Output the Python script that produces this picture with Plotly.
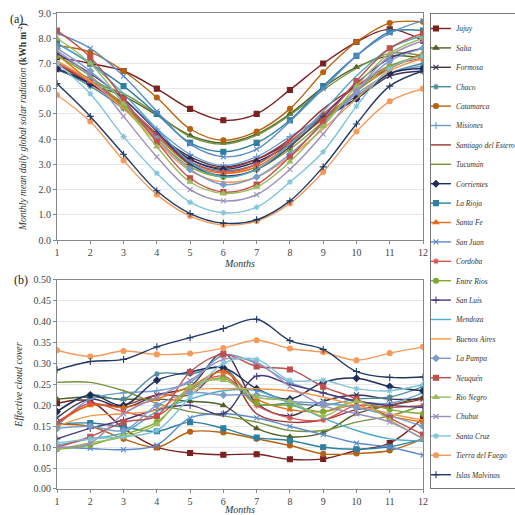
import plotly.graph_objects as go
from plotly.subplots import make_subplots

months = [1, 2, 3, 4, 5, 6, 7, 8, 9, 10, 11, 12]

provinces = ["Jujuy", "Salta", "Formosa", "Chaco", "Catamarca", "Misiones",
             "Santiago del Estero", "Tucumán", "Corrientes", "La Rioja", "Santa Fe",
             "San Juan", "Cordoba", "Entre Rios", "San Luis", "Mendoza", "Buenos Aires",
             "La Pampa", "Neuquén", "Rio Negro", "Chubut", "Santa Cruz",
             "Tierra del Fuego", "Islas Malvinas"]

colors = ["#7B2020", "#4F6228", "#403152", "#4A8A9A", "#B8620F", "#6A9BD1",
          "#9E3330", "#77933C", "#1F2D5C", "#2E7FA0", "#E46C0A",
          "#5B8BCB", "#D9534F", "#7DAA32", "#4B3A7A", "#4BACC6", "#F79646",
          "#7A9CCB", "#C0504D", "#9BBB59", "#9C8FBE", "#7FC4D9",
          "#F59A5A", "#1F3864"]

symbols = ["square", "triangle-up", "x-thin-open", "asterisk-open", "circle", "cross-thin-open",
           None, None, "diamond", "square", "triangle-up",
           "x-thin-open", "asterisk-open", "circle", "cross-thin-open", None, None,
           "diamond", "square", "triangle-up", "x-thin-open", "asterisk-open",
           "circle", "cross-thin-open"]

# (a) Monthly mean daily global solar radiation (kWh m-2)
rad_jujuy = [7.25, 7.0, 6.7, 6.0, 5.2, 4.75, 5.0, 5.95, 7.0, 7.85, 8.35, 7.9]
rad_salta = [7.0, 6.2, 5.7, 4.95, 4.15, 3.85, 4.2, 5.0, 6.05, 6.85, 7.3, 7.2]
rad_formosa = [6.75, 6.2, 5.3, 4.2, 3.3, 2.9, 3.2, 3.9, 4.9, 5.6, 6.5, 6.7]
rad_chaco = [6.8, 6.1, 5.2, 4.1, 3.1, 2.75, 3.0, 3.9, 4.9, 5.7, 6.6, 7.0]
rad_catamarca = [7.7, 7.45, 6.7, 5.65, 4.4, 3.95, 4.3, 5.2, 6.65, 7.85, 8.6, 8.65]
rad_misiones = [6.9, 6.4, 5.6, 4.4, 3.4, 2.95, 3.3, 4.1, 4.9, 5.8, 6.6, 6.9]
rad_santiago = [7.0, 6.2, 5.3, 4.2, 3.2, 2.85, 3.2, 4.0, 5.2, 6.1, 6.8, 7.4]
rad_tucuman = [7.1, 6.3, 5.8, 5.0, 4.1, 3.8, 4.15, 4.95, 5.95, 6.8, 7.4, 7.3]
rad_corrientes = [6.8, 6.2, 5.4, 4.2, 3.2, 2.8, 3.1, 3.8, 4.8, 5.6, 6.6, 6.8]
rad_larioja = [7.8, 7.0, 6.1, 5.0, 3.85, 3.5, 3.85, 4.75, 6.1, 7.3, 8.25, 8.3]
rad_santafe = [7.35, 6.3, 5.3, 4.1, 3.0, 2.65, 2.9, 3.8, 4.8, 5.9, 6.8, 7.4]
rad_sanjuan = [8.2, 7.6, 6.5, 5.1, 3.8, 3.3, 3.6, 4.7, 6.0, 7.3, 8.2, 8.7]
rad_cordoba = [7.0, 6.3, 5.4, 4.2, 3.1, 2.7, 3.0, 3.9, 5.0, 6.1, 6.9, 7.2]
rad_entrerios = [7.3, 6.5, 5.3, 4.0, 2.9, 2.5, 2.8, 3.6, 4.7, 5.9, 6.9, 7.3]
rad_sanluis = [7.4, 6.6, 5.6, 4.3, 3.0, 2.55, 2.8, 3.7, 4.9, 6.2, 7.2, 7.6]
rad_mendoza = [7.8, 7.0, 5.8, 4.4, 3.1, 2.5, 2.8, 3.8, 5.1, 6.5, 7.6, 8.1]
rad_buenosaires = [7.1, 6.3, 5.2, 3.9, 2.75, 2.3, 2.5, 3.3, 4.4, 5.6, 6.7, 7.2]
rad_lapampa = [7.6, 6.7, 5.5, 4.0, 2.8, 2.2, 2.5, 3.4, 4.6, 5.9, 7.1, 7.6]
rad_neuquen = [8.3, 7.25, 5.6, 3.9, 2.45, 1.9, 2.2, 3.3, 4.7, 6.3, 7.6, 8.2]
rad_rionegro = [8.0, 7.0, 5.4, 3.7, 2.3, 1.85, 2.1, 3.1, 4.5, 6.1, 7.4, 8.0]
rad_chubut = [7.5, 6.5, 4.9, 3.3, 2.0, 1.55, 1.8, 2.8, 4.2, 5.9, 7.3, 7.9]
rad_santacruz = [7.0, 5.8, 4.1, 2.65, 1.5, 1.08, 1.3, 2.3, 3.5, 5.3, 6.8, 7.3]
rad_tierradelfuego = [5.75, 4.7, 3.15, 1.8, 0.95, 0.6, 0.75, 1.45, 2.7, 4.3, 5.5, 6.0]
rad_malvinas = [6.2, 4.9, 3.4, 1.95, 1.05, 0.67, 0.8, 1.55, 2.9, 4.6, 6.1, 6.7]

# (b) Effective cloud cover
ecc_jujuy = [0.205, 0.21, 0.145, 0.10, 0.086, 0.082, 0.083, 0.071, 0.072, 0.092, 0.11, 0.17]
ecc_salta = [0.215, 0.22, 0.215, 0.215, 0.21, 0.20, 0.145, 0.125, 0.135, 0.18, 0.20, 0.22]
ecc_formosa = [0.17, 0.215, 0.195, 0.225, 0.245, 0.325, 0.205, 0.175, 0.21, 0.225, 0.215, 0.215]
ecc_chaco = [0.185, 0.225, 0.215, 0.275, 0.275, 0.29, 0.205, 0.205, 0.2, 0.215, 0.22, 0.245]
ecc_catamarca = [0.155, 0.15, 0.12, 0.10, 0.137, 0.135, 0.12, 0.104, 0.084, 0.085, 0.092, 0.12]
ecc_misiones = [0.15, 0.215, 0.23, 0.235, 0.255, 0.32, 0.30, 0.255, 0.23, 0.21, 0.205, 0.23]
ecc_santiago = [0.16, 0.20, 0.20, 0.225, 0.225, 0.285, 0.18, 0.16, 0.165, 0.19, 0.20, 0.215]
ecc_tucuman = [0.255, 0.255, 0.235, 0.205, 0.185, 0.175, 0.16, 0.14, 0.14, 0.16, 0.175, 0.20]
ecc_corrientes = [0.185, 0.225, 0.20, 0.26, 0.28, 0.29, 0.24, 0.215, 0.255, 0.265, 0.245, 0.235]
ecc_larioja = [0.155, 0.158, 0.148, 0.138, 0.16, 0.145, 0.123, 0.116, 0.10, 0.095, 0.101, 0.12]
ecc_santafe = [0.155, 0.20, 0.195, 0.215, 0.245, 0.28, 0.215, 0.19, 0.185, 0.20, 0.175, 0.16]
ecc_sanjuan = [0.10, 0.097, 0.094, 0.105, 0.17, 0.18, 0.17, 0.15, 0.13, 0.11, 0.10, 0.081]
ecc_cordoba = [0.155, 0.205, 0.185, 0.175, 0.24, 0.27, 0.20, 0.17, 0.165, 0.20, 0.195, 0.20]
ecc_entrerios = [0.095, 0.105, 0.13, 0.16, 0.235, 0.265, 0.205, 0.20, 0.185, 0.21, 0.19, 0.18]
ecc_sanluis = [0.12, 0.145, 0.165, 0.19, 0.20, 0.18, 0.27, 0.25, 0.23, 0.21, 0.20, 0.195]
ecc_mendoza = [0.105, 0.12, 0.135, 0.185, 0.215, 0.235, 0.235, 0.205, 0.17, 0.14, 0.12, 0.115]
ecc_buenosaires = [0.15, 0.175, 0.18, 0.19, 0.235, 0.24, 0.24, 0.235, 0.22, 0.20, 0.18, 0.165]
ecc_lapampa = [0.145, 0.15, 0.14, 0.20, 0.23, 0.225, 0.225, 0.21, 0.205, 0.195, 0.175, 0.15]
ecc_neuquen = [0.10, 0.125, 0.16, 0.175, 0.28, 0.322, 0.293, 0.286, 0.245, 0.215, 0.17, 0.13]
ecc_rionegro = [0.095, 0.11, 0.125, 0.155, 0.245, 0.26, 0.22, 0.21, 0.175, 0.21, 0.165, 0.12]
ecc_chubut = [0.10, 0.11, 0.18, 0.22, 0.26, 0.31, 0.303, 0.245, 0.20, 0.18, 0.16, 0.12]
ecc_santacruz = [0.11, 0.12, 0.125, 0.14, 0.22, 0.30, 0.31, 0.26, 0.26, 0.24, 0.235, 0.25]
ecc_tierradelfuego = [0.332, 0.317, 0.33, 0.322, 0.324, 0.337, 0.356, 0.336, 0.327, 0.308, 0.325, 0.34]
ecc_malvinas = [0.285, 0.305, 0.31, 0.34, 0.362, 0.384, 0.406, 0.355, 0.334, 0.281, 0.267, 0.268]

radiation = [rad_jujuy, rad_salta, rad_formosa, rad_chaco, rad_catamarca, rad_misiones,
             rad_santiago, rad_tucuman, rad_corrientes, rad_larioja, rad_santafe,
             rad_sanjuan, rad_cordoba, rad_entrerios, rad_sanluis, rad_mendoza,
             rad_buenosaires, rad_lapampa, rad_neuquen, rad_rionegro, rad_chubut,
             rad_santacruz, rad_tierradelfuego, rad_malvinas]
cloud = [ecc_jujuy, ecc_salta, ecc_formosa, ecc_chaco, ecc_catamarca, ecc_misiones,
         ecc_santiago, ecc_tucuman, ecc_corrientes, ecc_larioja, ecc_santafe,
         ecc_sanjuan, ecc_cordoba, ecc_entrerios, ecc_sanluis, ecc_mendoza,
         ecc_buenosaires, ecc_lapampa, ecc_neuquen, ecc_rionegro, ecc_chubut,
         ecc_santacruz, ecc_tierradelfuego, ecc_malvinas]

SERIF = "Liberation Serif"

fig = make_subplots(rows=2, cols=1, shared_xaxes=False, vertical_spacing=0.08)

for i, name in enumerate(provinces):
    sym = symbols[i]
    mode = "lines+markers" if sym else "lines"
    marker = dict(symbol=sym or "circle", size=5, color=colors[i],
                  line=dict(color=colors[i], width=1.1))
    for row, data in ((1, radiation[i]), (2, cloud[i])):
        fig.add_trace(go.Scatter(
            x=months, y=data, name=name, mode=mode,
            line=dict(color=colors[i], width=1.4, shape="spline", smoothing=1.0),
            marker=marker, legendgroup=name, showlegend=(row == 1)),
            row=row, col=1)

fig.update_layout(
    width=515, height=515,
    margin=dict(l=57, r=92, t=13, b=26, autoexpand=False),
    paper_bgcolor="white", plot_bgcolor="white",
    font=dict(family=SERIF, size=10, color="#333"),
    legend=dict(x=1.019, y=1.0, xanchor="left", yanchor="top",
                bordercolor="#777", borderwidth=1, bgcolor="white",
                font=dict(family=SERIF, size=7.5, style="italic", color="#333"),
                tracegroupgap=0.4, indentation=-15, itemwidth=30),
)

axis_common = dict(showline=True, linecolor="#888", linewidth=1, mirror=True,
                   ticks="outside", ticklen=3, tickcolor="#888",
                   tickfont=dict(family=SERIF, size=10, color="#444"))

fig.update_xaxes(range=[1, 12], dtick=1, tick0=1, showgrid=False, **axis_common)
fig.update_yaxes(showgrid=True, gridcolor="#e8e8e8", gridwidth=1, zeroline=False, **axis_common)

fig.update_layout(
    yaxis=dict(domain=[0.5231, 1.0], range=[0, 9.0], dtick=1.0, tickformat=".1f",
               title=dict(text="<i>Monthly mean daily global solar radiation</i> <b>(kWh m<sup>-2</sup>)</b>",
                          font=dict(family=SERIF, size=9.5, color="#333"), standoff=10)),
    yaxis2=dict(domain=[0.0, 0.4391], range=[0, 0.5], dtick=0.05, tickformat=".2f",
                title=dict(text="<i>Effective cloud cover</i>",
                           font=dict(family=SERIF, size=10, color="#333"), standoff=8)),
    xaxis=dict(title=dict(text="<i>Months</i>", font=dict(family=SERIF, size=10, color="#333"), standoff=2)),
    xaxis2=dict(title=dict(text="<i>Months</i>", font=dict(family=SERIF, size=10, color="#333"), standoff=0)),
)

fig.add_annotation(text="(a)", x=-0.134, y=1.006, xref="paper", yref="paper",
                   xanchor="left", yanchor="top", showarrow=False,
                   font=dict(family=SERIF, size=12, color="#222"))
fig.add_annotation(text="(b)", x=-0.123, y=0.458, xref="paper", yref="paper",
                   xanchor="left", yanchor="top", showarrow=False,
                   font=dict(family=SERIF, size=12, color="#222"))

fig.write_html("out.html", config={"displayModeBar": False},
               post_script="document.body.style.margin='0px';")
